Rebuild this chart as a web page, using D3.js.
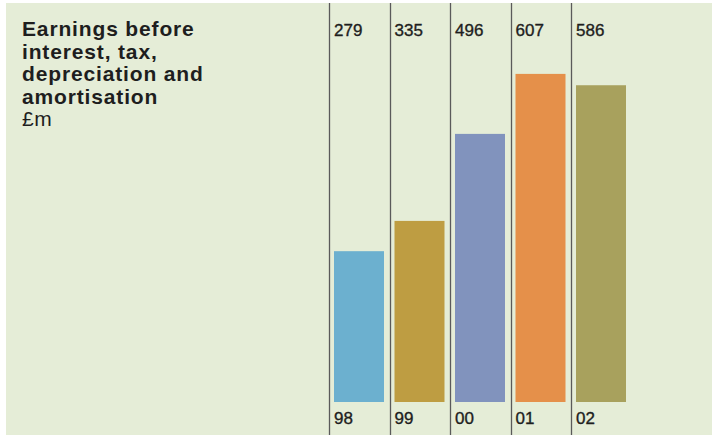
<!DOCTYPE html>
<html>
<head>
<meta charset="utf-8">
<script src="https://cdn.jsdelivr.net/npm/d3@7"></script>
<style>
html,body{margin:0;padding:0;background:#fff;}
svg{display:block;}
</style>
</head>
<body>
<svg id="chart" width="712" height="435"></svg>
<script>
const years = ["98", "99", "00", "01", "02"];
const values = [279, 335, 496, 607, 586];
const barColors = ["#6cb0cf", "#be9d42", "#8193bd", "#e5904a", "#a8a15d"];
const titleLines = ["Earnings before", "interest, tax,", "depreciation and", "amortisation"];
const unitLabel = "£m";

const W = 712, H = 435;
const svg = d3.select("#chart");

svg.append("rect").attr("x", 6).attr("y", 3).attr("width", W - 6).attr("height", H - 3)
  .attr("fill", "#e5edd7");

const x = d3.scaleBand().domain(years).range([329, 329 + 60.5 * years.length]).paddingInner(0).paddingOuter(0);
const y = d3.scaleLinear().domain([0, 740]).range([402, 2]);

// column divider lines
svg.selectAll("line.div").data(years).enter().append("line")
  .attr("class", "div")
  .attr("x1", d => Math.round(x(d)) + 0.5).attr("x2", d => Math.round(x(d)) + 0.5)
  .attr("y1", 3).attr("y2", H)
  .attr("stroke", "#5a5a5a").attr("stroke-width", 1.3);

// bars
svg.selectAll("rect.bar").data(values).enter().append("rect")
  .attr("class", "bar")
  .attr("x", (d, i) => x(years[i]) + 5)
  .attr("width", x.bandwidth() - 10.5)
  .attr("y", d => y(d))
  .attr("height", d => y(0) - y(d))
  .attr("fill", (d, i) => barColors[i]);

const font = "'Liberation Sans', Arial, Helvetica, sans-serif";

// value labels
svg.selectAll("text.val").data(values).enter().append("text")
  .attr("class", "val")
  .attr("x", (d, i) => x(years[i]) + 5)
  .attr("y", 36)
  .attr("font-family", font)
  .attr("font-size", 17)
  .attr("fill", "#1e1e1e")
  .attr("stroke", "#1e1e1e").attr("stroke-width", 0.35)
  .text(d => d);

// year labels
svg.selectAll("text.yr").data(years).enter().append("text")
  .attr("class", "yr")
  .attr("x", d => x(d) + 5)
  .attr("y", 423.5)
  .attr("font-family", font)
  .attr("font-size", 17)
  .attr("fill", "#1e1e1e")
  .attr("stroke", "#1e1e1e").attr("stroke-width", 0.35)
  .text(d => d);

// title
const t = svg.append("text")
  .attr("x", 22).attr("y", 36)
  .attr("font-family", font)
  .attr("font-size", 21)
  .attr("fill", "#1e1e1e");
titleLines.forEach((l, i) => {
  t.append("tspan").attr("x", 22).attr("dy", i === 0 ? 0 : 22.6)
    .attr("font-weight", "bold").attr("letter-spacing", 0.85).text(l);
});
t.append("tspan").attr("x", 22).attr("dy", 22.6).attr("letter-spacing", 0.6).text(unitLabel);
</script>
</body>
</html>
